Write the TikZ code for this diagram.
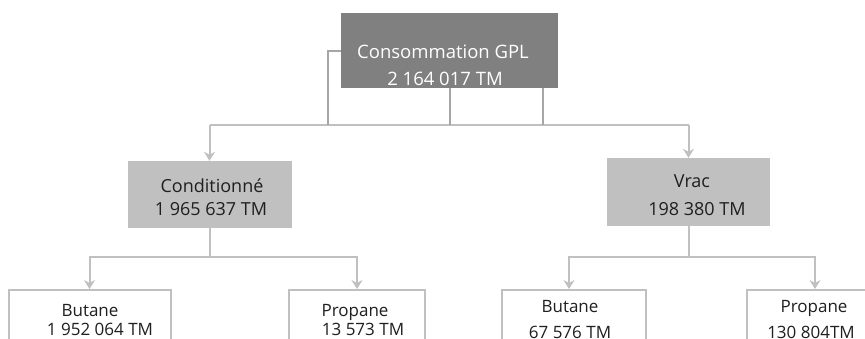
\documentclass[tikz,border=0pt]{standalone}
\usepackage{fontspec}
\setmainfont{Open Sans}
\usetikzlibrary{arrows.meta}
\definecolor{topfill}{HTML}{808080}
\definecolor{midfill}{HTML}{C0C0C0}
\definecolor{linegray}{HTML}{C0C0C0}
\definecolor{darkline}{HTML}{A6A6A6}
\definecolor{txt}{HTML}{1F1F1F}
\tikzset{
  topbox/.style={draw=none, fill=topfill, inner sep=0pt},
  midbox/.style={draw=none, fill=midfill, inner sep=0pt},
  leafbox/.style={draw=linegray, line width=2pt, fill=white, inner sep=0pt},
  conn/.style={draw=linegray, line width=2pt},
  topconn/.style={draw=darkline, line width=2pt},
  arr/.style={conn, -{Stealth[length=9pt,width=11pt,inset=3pt]}},
  toptxt/.style={anchor=base, inner sep=0pt, text=white, font=\fontsize{18.5}{21}\selectfont},
  midtxt/.style={anchor=base, inner sep=0pt, text=txt, font=\fontsize{18}{21}\selectfont},
  leaftxt/.style={anchor=base, inner sep=0pt, text=txt, font=\fontsize{17}{20}\selectfont},
}
\begin{document}
\begin{tikzpicture}[x=1pt,y=-1pt]
\useasboundingbox (0,0) rectangle (865,338);
\clip (0,0) rectangle (865,338);
\fill[white] (0,0) rectangle (865,338);
% boxes
\node[topbox, minimum width=217, minimum height=75] (top) at (449.5,50.5) {};
\node[midbox, minimum width=164, minimum height=67] (cond) at (209.5,194.5) {};
\node[midbox, minimum width=163, minimum height=68] (vrac) at (688.5,192) {};
\node[leafbox, minimum width=162, minimum height=80] (b1) at (89.5,330) {};
\node[leafbox, minimum width=136, minimum height=80] (p1) at (357,330) {};
\node[leafbox, minimum width=144, minimum height=80] (b2) at (574,330) {};
\node[leafbox, minimum width=136, minimum height=80] (p2) at (815,330) {};
% texts
\node[toptxt] (t1) at (443,58) {Consommation GPL};
\node[toptxt] (t2) at (445,85) {2 164 017 TM};
\node[midtxt] (c1) at (212,192) {Conditionné};
\node[midtxt] (c2) at (211,215) {1 965 637 TM};
\node[midtxt] (v1) at (692,187) {Vrac};
\node[midtxt] (v2) at (697,215) {198 380 TM};
\node[leaftxt] (bt1) at (90,316) {Butane};
\node[leaftxt] (bn1) at (100,335) {1 952 064 TM};
\node[leaftxt] (pt1) at (355,316) {Propane};
\node[leaftxt] (pn1) at (363,335) {13 573 TM};
\node[leaftxt] (bt2) at (570,312) {Butane};
\node[leaftxt] (bn2) at (570,338) {67 576 TM};
\node[leaftxt] (pt2) at (814,312) {Propane};
\node[leaftxt] (pn2) at (811,338) {130 804TM};
% connectors level 1
\coordinate (hubL) at (cond.north |- 0,125);
\coordinate (hubR) at (vrac.north |- 0,125);
\coordinate (j1) at (328,125);
\coordinate (j3) at (543,125);
\draw[conn] (hubL) -- (hubR);
\draw[topconn] (top.west) -| (j1);
\draw[topconn] (top.south) -- (top.south |- hubL);
\draw[topconn] (j3 |- top.south) -- (j3);
\draw[arr] (hubL) -- (cond.north);
\draw[arr] (hubR) -- (vrac.north);
% connectors level 2
\coordinate (cL) at (cond.south |- 0,257);
\coordinate (vL) at (vrac.south |- 0,257);
\draw[conn] (cond.south) -- (cL);
\draw[arr] (cL) -| (b1.north);
\draw[arr] (cL) -| (p1.north);
\draw[conn] (vrac.south) -- (vL);
\draw[arr] (vL) -| ([xshift=-5pt]b2.north);
\draw[arr] (vL) -| (p2.north);
\end{tikzpicture}
\end{document}
